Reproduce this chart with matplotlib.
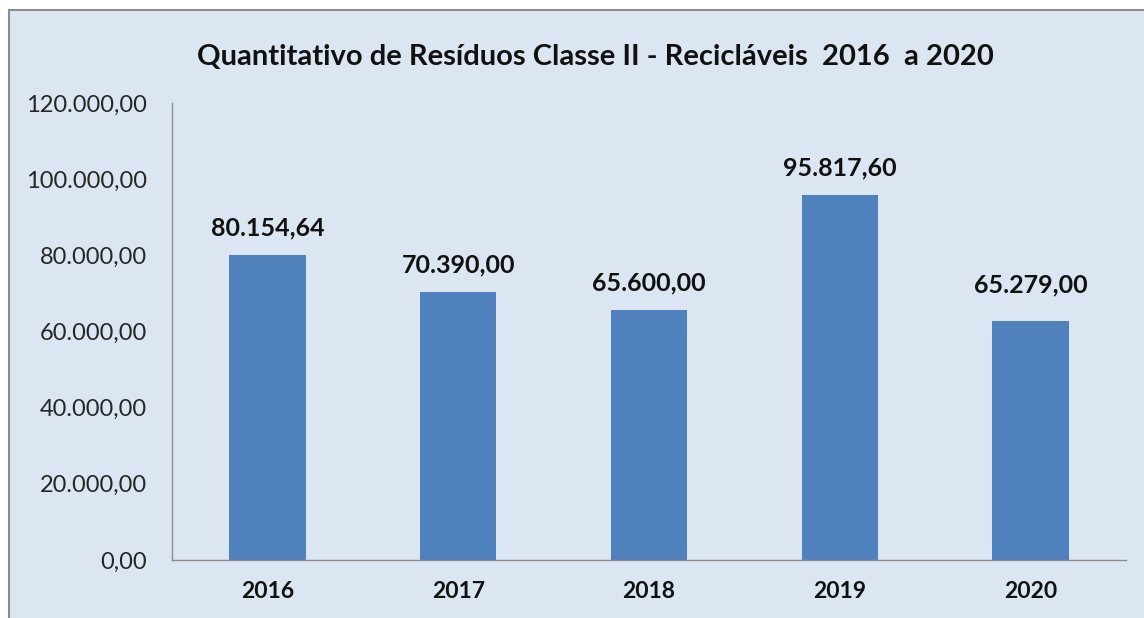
import matplotlib
matplotlib.use("Agg")
import matplotlib.pyplot as plt
from matplotlib.patches import Rectangle

# Data
years = ["2016", "2017", "2018", "2019", "2020"]
bar_heights = [80154.64, 70390.00, 65600.00, 95817.60, 62800.00]   # bar heights as drawn
label_values = [80154.64, 70390.00, 65600.00, 95817.60, 65279.00]  # values printed above bars
y_ticks = [0, 20000, 40000, 60000, 80000, 100000, 120000]
title = "Quantitativo de Resíduos Classe II - Recicláveis  2016  a 2020"


def br(v):
    s = f"{v:,.2f}"
    return s.replace(",", "X").replace(".", ",").replace("X", ".")


plt.rcParams['font.family'] = ['Lato', 'DejaVu Sans']

W, H = 1144, 618
fig = plt.figure(figsize=(W / 100, H / 100), dpi=100, facecolor="white")
bg = "#DCE6F2"
fig.patches.append(Rectangle((9 / W, -0.1), 1.2, (H - 10) / H + 0.1,
                             transform=fig.transFigure, facecolor=bg,
                             edgecolor="#8C8C8C", linewidth=1.5, zorder=-5))

ax = fig.add_axes([172 / W, (H - 560) / H, (1126 - 172) / W, (560 - 103) / H])
ax.set_facecolor(bg)
x = list(range(len(years)))
ax.bar(x, bar_heights, width=0.40, color="#4F81BD", zorder=2)
ax.set_xlim(-0.5, len(years) - 0.5)
ax.set_ylim(0, 120000)
ax.set_yticks(y_ticks)
ax.set_yticklabels([br(v) for v in y_ticks], fontsize=17, color="#262626")
ax.set_xticks(x)
ax.set_xticklabels(years, fontsize=16.5, fontweight="bold", color="#111111")
ax.tick_params(axis="y", length=0, pad=18)
ax.tick_params(axis="x", length=0, pad=15)
for s in ["top", "right"]:
    ax.spines[s].set_visible(False)
for s in ["left", "bottom"]:
    ax.spines[s].set_color("#8C8C8C")
    ax.spines[s].set_linewidth(1.0)

for xi, lv in zip(x, label_values):
    ax.annotate(br(lv), (xi, lv), xytext=(0, 11), textcoords="offset points",
                ha="center", va="bottom", fontsize=18, fontweight="bold",
                color="#111111")

fig.text(595 / W, 1 - 57 / H, title, ha="center", va="center",
         fontsize=21, fontweight="bold", color="#111111")

fig.savefig("out.png", dpi=100, facecolor="white")
